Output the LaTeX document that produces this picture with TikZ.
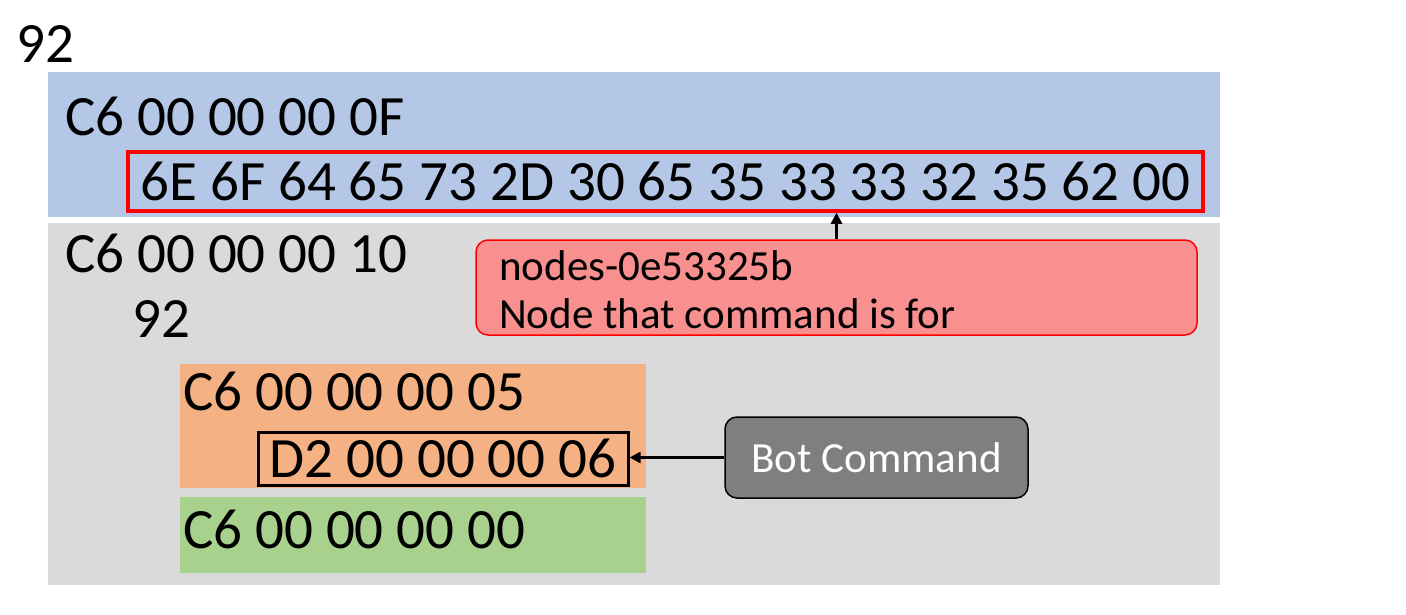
\documentclass[tikz,border=0pt]{standalone}
\usepackage{fontspec}
\setmainfont{Carlito}
\usetikzlibrary{arrows.meta}
\definecolor{hdrblue}{HTML}{B4C7E7}
\definecolor{bodygray}{HTML}{DADADA}
\definecolor{cmdorange}{HTML}{F4B183}
\definecolor{endgreen}{HTML}{A9D18E}
\definecolor{notepink}{HTML}{F8908F}
\definecolor{botgray}{HTML}{7F7F7F}

\begin{document}
\begin{tikzpicture}[x=1pt,y=1pt]
    \tikzstyle{every node}+=[inner sep=0pt]
    \tikzstyle{big}=[font=\fontsize{57}{68}\selectfont]
    \tikzstyle{small}=[font=\fontsize{43}{48}\selectfont]
    \tikzstyle{arr}=[line width=2.5pt, -{Triangle[length=11pt,width=11pt]}]
    \useasboundingbox (0,0) rectangle (1406,-614);
    % blocks
    \fill [hdrblue] (48,-72) rectangle (1220,-217);
    \fill [bodygray] (48,-223) rectangle (1220,-585);
    \fill [cmdorange] (180,-364) rectangle (646,-488);
    \fill [endgreen] (180,-497) rectangle (646,-573);
    % bytes
    \draw (16,-62) node [big, anchor=base west] {92};
    \draw (65,-135) node [big, anchor=base west] {C6 00 00 00 0F};
    \node (hexname) [big, draw=red, line width=3.5pt, minimum width=1075, minimum height=59] at (665.5,-181.5) {6E 6F 64 65 73 2D 30 65 35 33 33 32 35 62 00};
    \draw (65,-272) node [big, anchor=base west] {C6 00 00 00 10};
    \draw (132,-337) node [big, anchor=base west] {92};
    \draw (183,-410) node [big, anchor=base west] {C6 00 00 00 05};
    \node (botbytes) [big, draw, line width=3pt, minimum width=370, minimum height=53] at (443,-458.5) {D2 00 00 00 06};
    \draw (183,-548) node [big, anchor=base west] {C6 00 00 00 00};
    % notes
    \node (nodenote) [draw=red, fill=notepink, line width=1.5pt, rounded corners=12pt, minimum width=721, minimum height=95] at (836.5,-287.5) {};
    \draw (499,-280) node [small, anchor=base west] {nodes-0e53325b};
    \draw (499,-328) node [small, anchor=base west] {Node that command is for};
    \node (botcmd) [small, draw, fill=botgray, text=white, line width=1.5pt, rounded corners=12pt, minimum width=303, minimum height=81] at (876.5,-457.5) {Bot Command};
    \draw [arr] (nodenote.north) -- (nodenote.north |- hexname.south);
    \draw [arr] (botcmd.west) -- (botcmd.west -| botbytes.east);
\end{tikzpicture}
\end{document}
